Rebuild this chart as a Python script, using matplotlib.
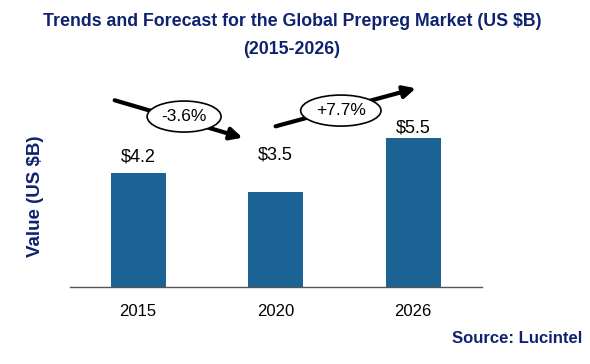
import matplotlib
matplotlib.use("Agg")
import matplotlib.pyplot as plt

# data
years = ["2015", "2020", "2026"]
values = [4.2, 3.5, 5.5]
value_labels = ["$4.2", "$3.5", "$5.5"]
label_offsets = [0.6, 1.35, 0.35]
cagr_labels = ["-3.6%", "+7.7%"]

navy = "#0f2270"
bar_color = "#1b6394"

plt.rcParams["font.family"] = ["Liberation Sans", "DejaVu Sans"]

fig = plt.figure(figsize=(5.9, 3.64), dpi=100)
ax = fig.add_axes([0.1186, 0.2115, 0.698, 0.522])

x = range(len(years))
ax.bar(x, values, width=0.4, color=bar_color, zorder=2)
ax.set_xlim(-0.495, 2.5)
ax.set_ylim(0, 7)

for xi, v, lab, off in zip(x, values, value_labels, label_offsets):
    ax.text(xi, v + off, lab, ha="center", va="center", fontsize=13, color="black")

ax.set_xticks(list(x))
ax.set_xticklabels(years, fontsize=12)
ax.tick_params(axis="x", length=0, pad=12)
ax.set_yticks([])
for s in ["top", "right", "left"]:
    ax.spines[s].set_visible(False)
ax.spines["bottom"].set_color("#555555")
ax.spines["bottom"].set_linewidth(1)

# growth arrows
arrow_kw = dict(arrowstyle="-|>", lw=3, color="black", mutation_scale=18, shrinkA=0, shrinkB=0)
ax.annotate("", xy=(0.76, 5.5), xytext=(-0.17, 6.88), arrowprops=arrow_kw,
            annotation_clip=False)
ax.annotate("", xy=(2.02, 7.32), xytext=(1.0, 5.92), arrowprops=arrow_kw,
            annotation_clip=False)
ell = dict(boxstyle="ellipse,pad=0.2", fc="white", ec="black", lw=1.2)
ax.text(0.335, 6.28, cagr_labels[0], ha="center", va="center", fontsize=12.5,
        bbox=ell, zorder=5, clip_on=False)
ax.text(1.475, 6.5, cagr_labels[1], ha="center", va="center", fontsize=12.5,
        bbox=ell, zorder=5, clip_on=False)

fig.text(0.495, 0.94, "Trends and Forecast for the Global Prepreg Market (US $B)",
         ha="center", va="center", fontsize=12.8, fontweight="bold", color=navy)
fig.text(0.495, 0.863, "(2015-2026)", ha="center", va="center", fontsize=12.8,
         fontweight="bold", color=navy)
fig.text(0.06, 0.46, "Value (US $B)", ha="center", va="center", rotation=90,
         fontsize=13.5, fontweight="bold", color=navy)
fig.text(0.987, 0.071, "Source: Lucintel", ha="right", va="center", fontsize=12,
         fontweight="bold", color=navy)

fig.savefig("out.png", dpi=100)
